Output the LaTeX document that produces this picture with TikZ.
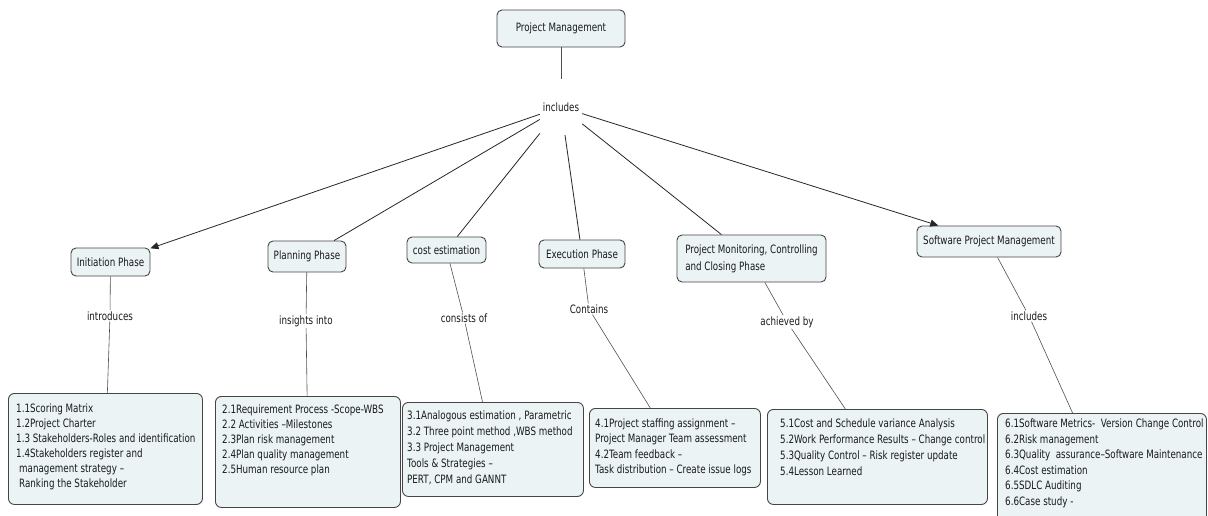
\documentclass[tikz,border=0pt]{standalone}
\usepackage{fontspec}
\setmainfont{DejaVu Sans}[FakeStretch=0.76]
\usetikzlibrary{arrows.meta}
\definecolor{boxfill}{HTML}{EBF3F5}
\definecolor{boxline}{HTML}{454545}
\definecolor{txt}{HTML}{1A1A1A}
\definecolor{lnk}{HTML}{505050}
\begin{document}
\begin{tikzpicture}[x=1pt,y=-1pt,
  concept/.style={draw=boxline, fill=boxfill, rounded corners=5pt, line width=0.9pt, inner sep=0pt, text=txt, font=\fontsize{11.5}{17}\selectfont},
  listbox/.style={draw=boxline, fill=boxfill, rounded corners=6pt, line width=0.9pt, inner sep=0pt, anchor=north west},
  listtext/.style={anchor=north west, inner sep=0pt, align=left, text=txt, font=\fontsize{11.5}{#1}\selectfont},
  listtext/.default=15,
  linkword/.style={inner sep=1pt, text=txt, font=\fontsize{11.5}{13}\selectfont},
  link/.style={draw=lnk, line width=0.6pt},
  mainlink/.style={draw=black!85, line width=0.8pt},
  tip/.style={-{Triangle[length=8pt,width=7pt]}}
]
\useasboundingbox (0,0) rectangle (1208,515);

% concepts
\node[concept, minimum width=128pt, minimum height=37pt] (pm) at (561,28.5) {Project Management};
\node[inner sep=0pt, minimum width=42pt, minimum height=56pt, text=txt, font=\fontsize{11.5}{13}\selectfont] (inc) at (561,107) {includes};
\node[concept, minimum width=79pt, minimum height=28pt] (ini) at (110.5,262) {Initiation Phase};
\node[concept, minimum width=78pt, minimum height=31pt] (pla) at (307,256.5) {Planning Phase};
\node[concept, minimum width=79pt, minimum height=26pt] (cost) at (446.5,250) {cost estimation};
\node[concept, minimum width=86pt, minimum height=28pt] (exe) at (582,254) {Execution Phase};
\node[concept, minimum width=149pt, minimum height=47pt, align=left] (mon) at (751.5,258.5) {Project Monitoring, Controlling\\and Closing Phase};
\node[concept, minimum width=144pt, minimum height=31pt] (spm) at (989,241.5) {Software Project Management};

% linking words
\node[linkword] (l1) at (110,316) {introduces};
\node[linkword] (l2) at (306,321) {insights into};
\node[linkword] (l3) at (464,318) {consists of};
\node[linkword] (l4) at (589,309) {Contains};
\node[linkword] (l5) at (787,322) {achieved by};
\node[linkword] (l6) at (1029,316) {includes};

% list boxes
\node[listbox, minimum width=194pt, minimum height=111pt] (b1) at (8,393) {};
\node[listtext=15] (t1) at (16,403.5) {1.1Scoring Matrix\\1.2Project Charter\\1.3 Stakeholders-Roles and identification\\1.4Stakeholders register and\\\hspace{3pt}management strategy –\\\hspace{3pt}Ranking the Stakeholder};
\node[listbox, minimum width=185pt, minimum height=111pt] (b2) at (215,396) {};
\node[listtext=15] (t2) at (222,404.5) {2.1Requirement Process -Scope-WBS\\2.2 Activities –Milestones\\2.3Plan risk management\\2.4Plan quality management\\2.5Human resource plan};
\node[listbox, minimum width=181pt, minimum height=94pt] (b3) at (402,402) {};
\node[listtext=16] (t3) at (407,410.5) {3.1Analogous estimation , Parametric\\3.2 Three point method ,WBS method\\3.3 Project Management\\Tools \& Strategies –\\PERT, CPM and GANNT};
\node[listbox, minimum width=171pt, minimum height=79pt] (b4) at (589,408) {};
\node[listtext=15.3] (t4) at (595,418.5) {4.1Project staffing assignment –\\Project Manager Team assessment\\4.2Team feedback –\\Task distribution – Create issue logs};
\node[listbox, minimum width=220pt, minimum height=95pt] (b5) at (767,409) {};
\node[listtext=16] (t5) at (780,418.5) {5.1Cost and Schedule variance Analysis\\5.2Work Performance Results – Change control\\5.3Quality Control – Risk register update\\5.4Lesson Learned};
\node[listbox, minimum width=209pt, minimum height=130pt] (b6) at (997,413) {};
\node[listtext=15.6] (t6) at (1005,418.5) {6.1Software Metrics- ~Version Change Control\\6.2Risk management\\6.3Quality ~assurance–Software Maintenance\\6.4Cost estimation\\6.5SDLC Auditing\\6.6Case study -};

% connectors
\draw[link] (pm) -- (inc);
\draw[mainlink, tip] (inc) -- (ini);
\draw[mainlink] (inc) -- (pla);
\draw[mainlink] (inc) -- (cost);
\draw[mainlink] (inc) -- (exe);
\draw[mainlink] (inc) -- (mon);
\draw[mainlink, tip] (inc) -- (spm);

\draw[link] (ini) -- (l1);
\draw[link] (l1) -- (b1);
\draw[link] (pla) -- (l2);
\draw[link] (l2) -- (b2);
\draw[link] (cost) -- (l3);
\draw[link] (l3) -- (b3);
\draw[link] (exe) -- (l4);
\draw[link] (l4) -- (b4);
\draw[link] (mon) -- (l5);
\draw[link] (l5) -- (b5);
\draw[link] (spm) -- (l6);
\draw[link] (l6) -- (b6);
\end{tikzpicture}
\end{document}
